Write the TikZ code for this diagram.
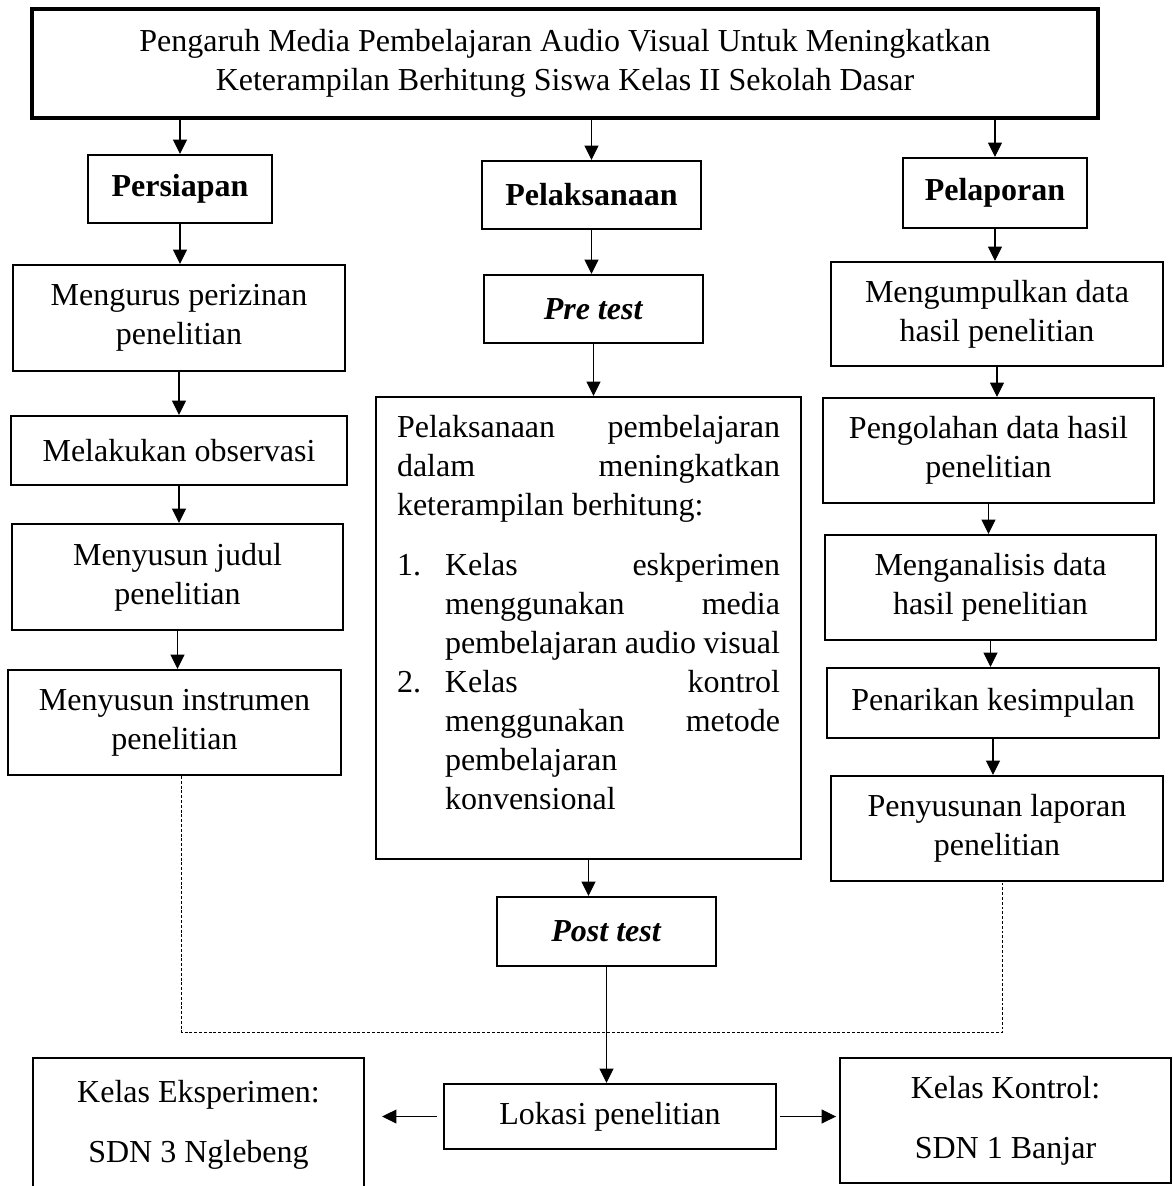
\documentclass[tikz,border=0pt]{standalone}
\usepackage{fontspec}
\setmainfont{Liberation Serif}
\usetikzlibrary{arrows.meta}

\newcommand{\px}{0.375pt}

\begin{document}
\begin{tikzpicture}
[x=\px,y=-\px,%
  flowbox/.style={draw,line width=0.75pt,align=center,inner sep=0pt,%
    font=\fontsize{12pt}{14.6pt}\selectfont},%
  wh/.style 2 args={minimum width=#1*\px,minimum height=#2*\px},%
  arr/.style={-{Triangle[length=5.4pt,width=5.2pt]},line width=0.45pt},%
  dotline/.style={line width=0.35pt,dash pattern=on 1.1pt off 0.7pt}]
\useasboundingbox (0,0) rectangle (1173,1186);

\node[flowbox,line width=1.5pt,wh={1066}{109}] (topik) at (565,63.5)
  {Pengaruh Media Pembelajaran Audio Visual Untuk Meningkatkan\\
   Keterampilan Berhitung Siswa Kelas II Sekolah Dasar};

% persiapan
\node[flowbox,wh={184}{68}] (persiapan) at (180,189) {\textbf{Persiapan}};
\node[flowbox,wh={332}{106}] (izin) at (179,318) {Mengurus perizinan\\penelitian};
\node[flowbox,wh={336}{69}] (observasi) at (179,450.5) {Melakukan observasi};
\node[flowbox,wh={331}{106}] (judul) at (177.5,577) {Menyusun judul\\penelitian};
\node[flowbox,wh={333}{105}] (instrumen) at (174.5,722.5) {Menyusun instrumen\\penelitian};

% pelaksanaan
\node[flowbox,wh={219}{68}] (pelaksanaan) at (591.5,195) {\textbf{Pelaksanaan}};
\node[flowbox,wh={219}{68}] (pretest) at (593.5,309) {\textbf{\textit{Pre test}}};
\node[flowbox,wh={425}{462},text width=383*\px,align=justify] (proses) at (588.5,628)
  {\hyphenpenalty=10000 \tolerance=10000 \hbadness=10000 \hfuzz=20pt
   Pelaksanaan pembelajaran\linebreak dalam meningkatkan\linebreak
   keterampilan berhitung:\par
   \vspace{8pt}
   \hangindent=18pt\hangafter=1\noindent\makebox[18pt][l]{1.}Kelas eskperimen\linebreak
   menggunakan media\linebreak pembelajaran audio visual\par
   \hangindent=18pt\hangafter=1\noindent\makebox[18pt][l]{2.}Kelas kontrol\linebreak
   menggunakan metode\linebreak pembelajaran\newline konvensional\par
   \vspace{-3pt}\mbox{}};
\node[flowbox,wh={219}{69}] (posttest) at (606.5,931.5) {\textbf{\textit{Post test}}};
\node[flowbox,wh={332}{65}] (lokasi) at (610,1116.5) {Lokasi penelitian};
\node[flowbox,wh={331}{134}] (eksperimen) at (198.5,1125) {Kelas Eksperimen:\\[8pt]SDN 3 Nglebeng};
\node[flowbox,wh={331}{125}] (kontrol) at (1005.5,1120.5) {Kelas Kontrol:\\[8pt]SDN 1 Banjar};

% pelaporan
\node[flowbox,wh={184}{70}] (pelaporan) at (995,193) {\textbf{Pelaporan}};
\node[flowbox,wh={332}{104}] (kumpul) at (997,314) {Mengumpulkan data\\hasil penelitian};
\node[flowbox,wh={331}{105}] (olah) at (988.5,450.5) {Pengolahan data hasil\\penelitian};
\node[flowbox,wh={331}{105}] (analisis) at (990.5,587.5) {Menganalisis data\\hasil penelitian};
\node[flowbox,wh={332}{70}] (simpulan) at (993,703) {Penarikan kesimpulan};
\node[flowbox,wh={332}{105}] (laporan) at (997,828.5) {Penyusunan laporan\\penelitian};

% panah
\foreach \tahap in {persiapan,pelaksanaan,pelaporan}
  \draw[arr] (topik.south -| \tahap.north) -- (\tahap.north);
\foreach \a/\b in {persiapan/izin,izin/observasi,observasi/judul,judul/instrumen,%
    pelaksanaan/pretest,pretest/proses,proses/posttest,posttest/lokasi,%
    pelaporan/kumpul,kumpul/olah,olah/analisis,analisis/simpulan,simpulan/laporan}
  \draw[arr] (\a.south) -- (\a.south |- \b.north);
\draw[arr,shorten <=2.2pt,shorten >=6.4pt] (lokasi.west) -- (lokasi.west -| eksperimen.east);
\draw[arr,shorten <=1.1pt,shorten >=1.1pt] (lokasi.east) -- (lokasi.east -| kontrol.west);

% garis titik-titik
\coordinate (dasar) at (0,1032);
\coordinate (kiri) at ([xshift=2.6pt]instrumen.south);
\coordinate (kanan) at ([xshift=2.2pt]laporan.south);
\draw[dotline] (kiri) |- (dasar -| kanan) -- (kanan);
\end{tikzpicture}
\end{document}
